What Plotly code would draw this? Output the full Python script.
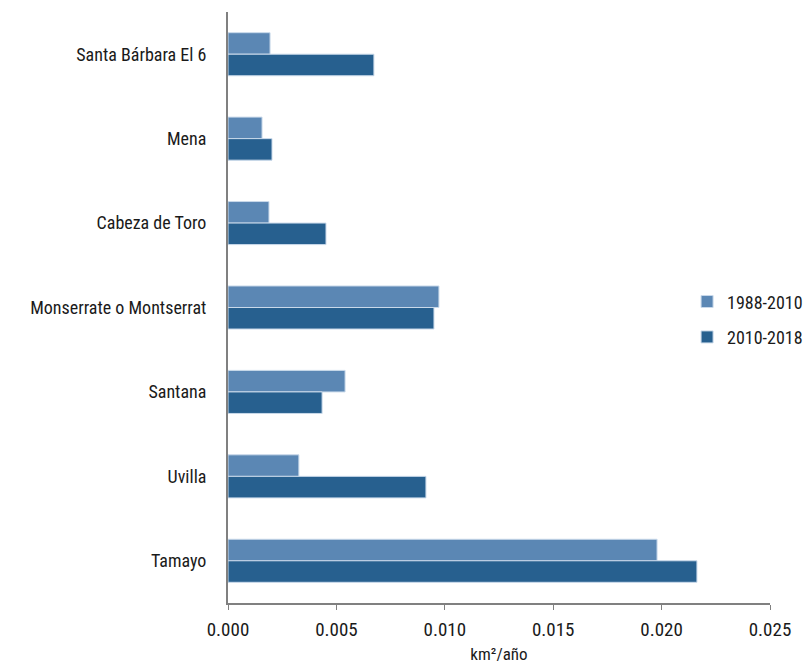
import plotly.graph_objects as go

# Erosion rate per site, km²/año
sites = ["Santa Bárbara El 6", "Mena", "Cabeza de Toro",
         "Monserrate o Montserrat", "Santana", "Uvilla", "Tamayo"]
rate_1988_2010 = [0.00194, 0.00157, 0.00189, 0.00973, 0.00540, 0.00327, 0.01979]
rate_2010_2018 = [0.00673, 0.00203, 0.00452, 0.00950, 0.00434, 0.00913, 0.02163]
x_ticks = [0.000, 0.005, 0.010, 0.015, 0.020, 0.025]

FONT = "Liberation Sans Narrow, Roboto Condensed, Arial Narrow, Roboto, sans-serif"

fig = go.Figure()
fig.add_trace(go.Bar(
    y=sites, x=rate_1988_2010, name="1988-2010", orientation="h",
    legendgroup="a",
    marker=dict(color="#5b87b4", line=dict(color="#c9d9ea", width=1)),
))
fig.add_trace(go.Bar(
    y=sites, x=rate_2010_2018, name="2010-2018", orientation="h",
    legendgroup="b",
    marker=dict(color="#27608f", line=dict(color="#c9d9ea", width=1)),
))

fig.update_layout(
    width=807, height=664,
    margin=dict(l=228, r=37, t=12, b=61, autoexpand=False),
    plot_bgcolor="white", paper_bgcolor="white",
    barmode="group", bargap=0.49, bargroupgap=0,
    font=dict(family=FONT, size=18, color="#1a1a1a"),
    showlegend=True,
    legend=dict(x=0.847, y=0.48, xanchor="left", yanchor="middle",
                font=dict(size=18), itemwidth=30, tracegroupgap=9,
                bgcolor="rgba(0,0,0,0)"),
    xaxis=dict(
        range=[0, 0.025], tickvals=x_ticks,
        ticktext=[f"{v:.3f}" for v in x_ticks],
        showgrid=False, zeroline=False,
        showline=True, linecolor="#808080", linewidth=2,
        ticks="outside", ticklen=5, tickcolor="#808080", tickwidth=1,
        tickfont=dict(size=19), ticklabelstandoff=3,
        title=dict(text="km²/año", font=dict(size=17), standoff=10),
    ),
    yaxis=dict(
        autorange="reversed", showgrid=False, zeroline=False,
        showline=True, linecolor="#808080", linewidth=2,
        ticks="", ticklabelstandoff=16,
    ),
)

fig.write_html("out.html")
